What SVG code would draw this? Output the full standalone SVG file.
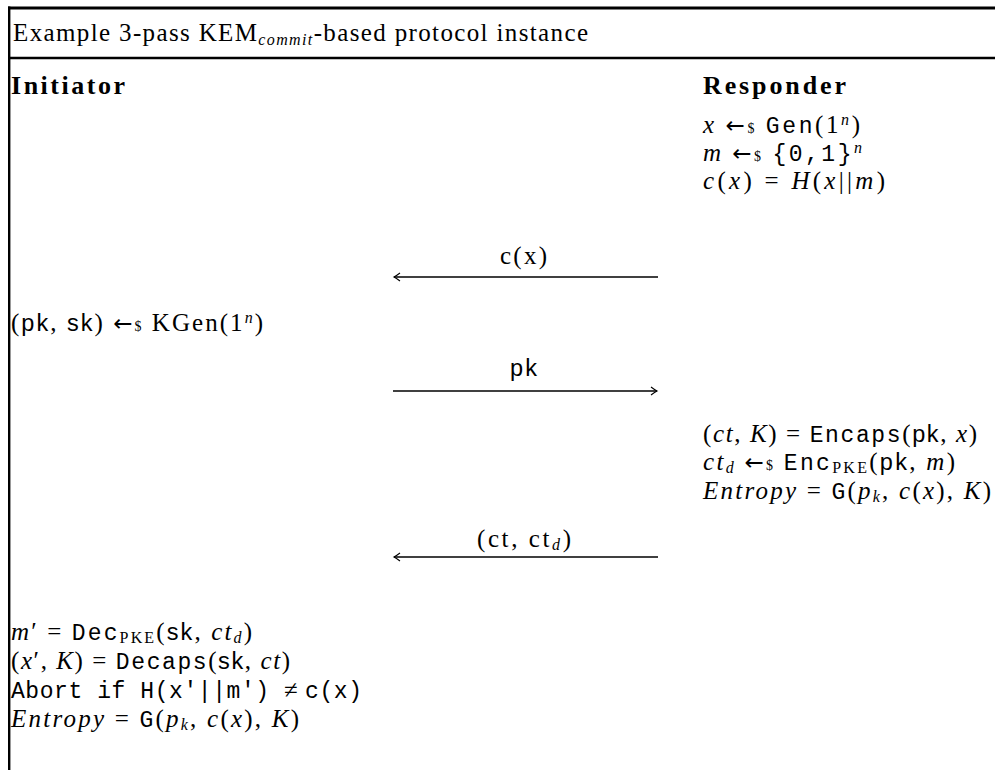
<svg xmlns="http://www.w3.org/2000/svg" width="995" height="770" viewBox="0 0 995 770">
<style>
text{font-family:"Liberation Serif","DejaVu Serif",serif;font-size:25px;fill:#000}
.it{font-style:italic}
.bf{font-weight:bold;font-size:26px}
.tt{font-family:"Liberation Mono","DejaVu Sans Mono",monospace;font-size:23px}
.sf{font-family:"Liberation Sans","DejaVu Sans",sans-serif;font-size:23.5px}
.sub{font-size:16px}
.ar{font-family:"DejaVu Sans",sans-serif;font-size:23px}
.ds{font-size:14px}
.frame{stroke:#000;fill:none}
.msg{stroke:#000;stroke-width:1.3;fill:none}
</style>
<defs>
<marker id="head" viewBox="-8 -5 10 10" refX="0" refY="0" markerWidth="10" markerHeight="10" markerUnits="userSpaceOnUse" orient="auto-start-reverse">
<path d="M-6,-4 Q-2,-1 0,0 Q-2,1 -6,4" fill="none" stroke="#000" stroke-width="1.1"/>
</marker>
</defs>
<g id="frame">
<line class="frame" x1="8" y1="8" x2="995" y2="8" stroke-width="3"/>
<line class="frame" x1="9.2" y1="6.5" x2="9.2" y2="770" stroke-width="2.4"/>
<line class="frame" x1="9" y1="58" x2="995" y2="58" stroke-width="2.4"/>
</g>
<g id="title">
<text x="13" y="41" textLength="575" lengthAdjust="spacing">Example 3-pass KEM<tspan class="it sub" dy="4">commit</tspan><tspan dy="-4">-based protocol instance</tspan></text>
</g>
<g id="initiator">
<text x="11" y="94" class="bf" textLength="114" lengthAdjust="spacing">Initiator</text>
<text x="11" y="331" textLength="252" lengthAdjust="spacing">(<tspan class="sf">pk</tspan>, <tspan class="sf">sk</tspan>) <tspan class="ar">←</tspan><tspan class="ds">$</tspan> KGen(1<tspan class="it sub" dy="-8">n</tspan><tspan dy="8">)</tspan></text>
<text x="11" y="640" textLength="241" lengthAdjust="spacing"><tspan class="it">m</tspan>′ = <tspan class="tt">Dec</tspan><tspan class="sub" dy="3">PKE</tspan><tspan dy="-3">(</tspan><tspan class="sf">sk</tspan>, <tspan class="it">ct</tspan><tspan class="it sub" dy="3">d</tspan><tspan dy="-3">)</tspan></text>
<text x="11" y="669" textLength="279" lengthAdjust="spacing">(<tspan class="it">x</tspan>′, <tspan class="it">K</tspan>) = <tspan class="tt">Decaps</tspan>(<tspan class="sf">sk</tspan>, <tspan class="it">ct</tspan>)</text>
<text x="11" y="698" textLength="351" lengthAdjust="spacing"><tspan class="tt" xml:space="preserve">Abort if H(x'||m') </tspan>≠ <tspan class="tt">c(x)</tspan></text>
<text x="11" y="727" textLength="288" lengthAdjust="spacing"><tspan class="it">Entropy</tspan> = <tspan class="tt">G</tspan>(<tspan class="it">p</tspan><tspan class="it sub" dy="3">k</tspan><tspan dy="-3">, </tspan><tspan class="it">c</tspan>(<tspan class="it">x</tspan>), <tspan class="it">K</tspan>)</text>
</g>
<g id="responder">
<text x="703" y="94" class="bf" textLength="143" lengthAdjust="spacing">Responder</text>
<text x="703" y="133" textLength="157" lengthAdjust="spacing"><tspan class="it">x</tspan> <tspan class="ar">←</tspan><tspan class="ds">$</tspan> <tspan class="tt">Gen</tspan>(1<tspan class="it sub" dy="-8">n</tspan><tspan dy="8">)</tspan></text>
<text x="703" y="161" textLength="159" lengthAdjust="spacing"><tspan class="it">m</tspan> <tspan class="ar">←</tspan><tspan class="ds">$</tspan> <tspan class="tt">{0,1}</tspan><tspan class="it sub" dy="-8">n</tspan></text>
<text x="703" y="189" textLength="182" lengthAdjust="spacing"><tspan class="it">c</tspan>(<tspan class="it">x</tspan>) = <tspan class="it">H</tspan>(<tspan class="it">x</tspan>||<tspan class="it">m</tspan>)</text>
<text x="703" y="442" textLength="274" lengthAdjust="spacing">(<tspan class="it">ct</tspan>, <tspan class="it">K</tspan>) = <tspan class="tt">Encaps</tspan>(<tspan class="sf">pk</tspan>, <tspan class="it">x</tspan>)</text>
<text x="703" y="470" textLength="252" lengthAdjust="spacing"><tspan class="it">ct</tspan><tspan class="it sub" dy="3">d</tspan> <tspan class="ar" dy="-3">←</tspan><tspan class="ds">$</tspan> <tspan class="tt">Enc</tspan><tspan class="sub" dy="3">PKE</tspan><tspan dy="-3">(</tspan><tspan class="sf">pk</tspan>, <tspan class="it">m</tspan>)</text>
<text x="703" y="499" textLength="288" lengthAdjust="spacing"><tspan class="it">Entropy</tspan> = <tspan class="tt">G</tspan>(<tspan class="it">p</tspan><tspan class="it sub" dy="3">k</tspan><tspan dy="-3">, </tspan><tspan class="it">c</tspan>(<tspan class="it">x</tspan>), <tspan class="it">K</tspan>)</text>
</g>
<g id="connectors">
<line class="msg" x1="658" y1="277" x2="394" y2="277" marker-end="url(#head)"/>
<line class="msg" x1="393" y1="391" x2="657" y2="391" marker-end="url(#head)"/>
<line class="msg" x1="658" y1="557" x2="394" y2="557" marker-end="url(#head)"/>
<text x="500" y="264" textLength="47" lengthAdjust="spacing">c(x)</text>
<text x="510" y="376" class="sf" textLength="27" lengthAdjust="spacing">pk</text>
<text x="477" y="547" textLength="94" lengthAdjust="spacing">(ct, ct<tspan class="it sub" dy="3">d</tspan><tspan dy="-3">)</tspan></text>
</g>
</svg>
